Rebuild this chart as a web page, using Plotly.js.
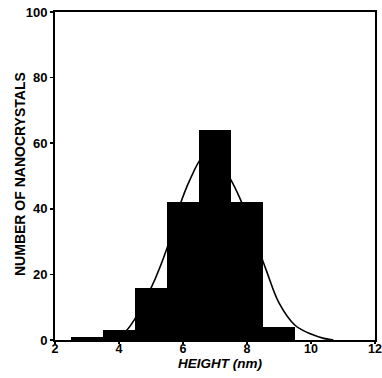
<!DOCTYPE html>
<html>
<head>
<meta charset="utf-8">
<script src="https://cdn.plot.ly/plotly-3.0.1.min.js"></script>
<style>html,body{margin:0;padding:0;background:#fff;}#chart{width:382px;height:378px;}</style>
</head>
<body>
<div id="chart"></div>
<script>
// Histogram bins (bin centres, nm) and counts
const binCenters = [3, 4, 5, 6, 7, 8, 9];
const binCounts = [0.8, 3, 16, 42, 64, 42, 4];

// Fitted curve, points
const curveX = [2.6, 3.0, 3.5, 4.0, 4.2, 4.5, 5.0, 5.5, 5.9, 6.2, 6.6, 6.9, 7.4, 7.8, 8.6, 9.0, 9.5, 10.0, 10.4, 10.7];
const curveY = [0.0, 0.1, 0.5, 1.8, 2.6, 6.5, 15.8, 28, 41, 48.5, 55.8, 57.5, 50.5, 42.7, 21.3, 11.3, 4.5, 1.8, 0.5, 0.0];

// Axis ticks and titles
const xTicks = [2, 4, 6, 8, 10, 12];
const yTicks = [0, 20, 40, 60, 80, 100];
const xTitle = 'HEIGHT (nm)';
const yTitle = 'NUMBER OF NANOCRYSTALS';

const fontFam = '"Liberation Sans", Arial, Helvetica, sans-serif';

const traces = [
  {
    type: 'bar',
    x: binCenters,
    y: binCounts,
    width: 1,
    marker: {color: '#000', line: {width: 0}},
    hoverinfo: 'skip'
  },
  {
    type: 'scatter',
    mode: 'lines',
    x: curveX,
    y: curveY,
    line: {color: '#000', width: 1.6, shape: 'spline', smoothing: 1},
    hoverinfo: 'skip'
  }
];

const layout = {
  width: 382,
  height: 378,
  margin: {l: 55, r: 7, t: 12, b: 38},
  paper_bgcolor: '#fff',
  plot_bgcolor: '#fff',
  showlegend: false,
  bargap: 0,
  font: {family: fontFam, color: '#000'},
  xaxis: {
    range: [2, 12],
    tickvals: xTicks,
    ticktext: xTicks.map(String),
    tickfont: {family: fontFam, size: 12.5, weight: 'bold', color: '#000'},
    ticks: 'outside', ticklen: 2, tickwidth: 1.5, tickcolor: '#000',
    ticklabeloverflow: 'allow',
    ticklabelstandoff: -6,
    showline: true, linecolor: '#000', linewidth: 2, mirror: true,
    showgrid: false, zeroline: false
  },
  yaxis: {
    range: [0, 100],
    tickvals: yTicks,
    ticktext: yTicks.map(String),
    tickfont: {family: fontFam, size: 13, weight: 'bold', color: '#000'},
    ticks: 'outside', ticklen: 3, tickwidth: 1.5, tickcolor: '#000',
    showline: true, linecolor: '#000', linewidth: 2, mirror: true,
    showgrid: false, zeroline: false
  },
  annotations: [
    {
      text: '<i>' + xTitle + '</i>',
      xref: 'paper', yref: 'paper', x: 0.5, y: 0,
      xanchor: 'center', yanchor: 'middle', yshift: -23.5, xshift: 5,
      showarrow: false, borderpad: 0,
      font: {family: fontFam, size: 13.5, weight: 'bold', color: '#000'}
    },
    {
      text: yTitle,
      xref: 'paper', yref: 'paper', x: 0, y: 0.5,
      xanchor: 'center', yanchor: 'middle', xshift: -35, yshift: 2,
      textangle: -90,
      showarrow: false, borderpad: 0,
      font: {family: fontFam, size: 14, weight: 'bold', color: '#000'}
    }
  ]
};

Plotly.newPlot('chart', traces, layout, {staticPlot: true, displayModeBar: false});
</script>
</body>
</html>
